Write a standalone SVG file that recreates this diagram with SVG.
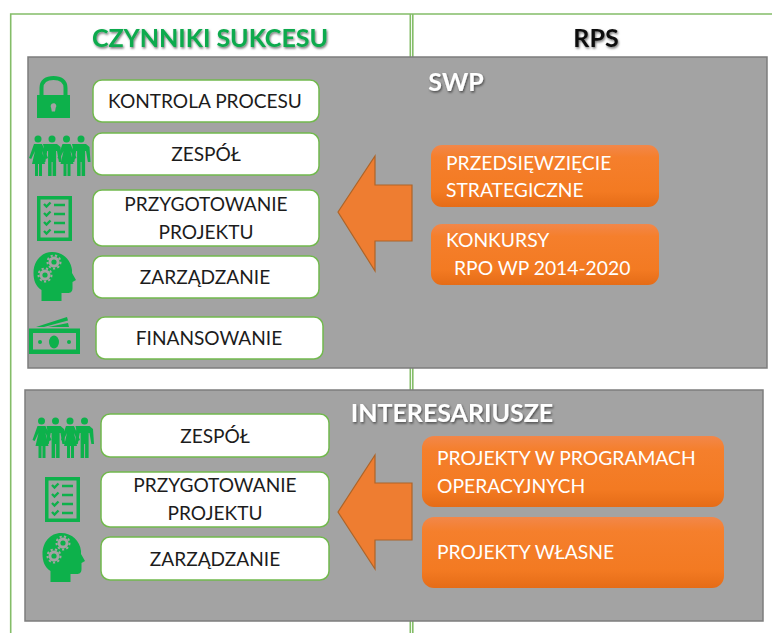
<svg xmlns="http://www.w3.org/2000/svg" width="772" height="633" viewBox="0 0 772 633">
<style>
text{font-family:Lato,"Open Sans","Liberation Sans",sans-serif}
.frame{stroke:#84bd68;fill:none;stroke-width:1.6}
.panel{fill:#a3a3a3;stroke:#7d7d7d;stroke-width:1.5}
.box{fill:#fff;stroke:#72b94e;stroke-width:1.5}
.lbl{font-size:19.100px;fill:#1c1c1c;text-anchor:middle}
.org{fill:url(#og)}
.ol{font-size:19.300px;fill:#fff}
.arrow{fill:#ee7d31;stroke:#ad6428;stroke-width:1.2}
.ic{fill:#0db14b}
.head{font-weight:700}
</style>
<defs>
<linearGradient id="og" x1="0" y1="0" x2="0" y2="1"><stop offset="0" stop-color="#f2874a"/><stop offset=".2" stop-color="#f57f2c"/><stop offset=".75" stop-color="#f37a22"/><stop offset="1" stop-color="#e56c17"/></linearGradient>
<filter id="sh" x="-10%" y="-30%" width="120%" height="170%"><feDropShadow dx="1" dy="1.500" stdDeviation="1" flood-color="#000" flood-opacity=".55"/></filter>
<g id="people" class="ic">
<g id="fem"><circle cx="38" cy="139" r="3.500"/><path d="M34 144h8l6 14-2.200 1-3.800-8 3 13h-3v12h-3v-12h-1v12h-3v-12h-3l3-13-3.800 8-2.200-1z"/></g>
<g id="mal"><circle cx="52" cy="139" r="3.500"/><path d="M45 144h14l3.500 3 1 15h-2.600l-1.900-11h-.9v25h-3.500v-14h-1v14h-3.500v-25h-.9l-1.900 11h-2.600l1-15z" transform="translate(-2 0)"/></g>
<use href="#fem" x="28.500"/><use href="#mal" x="29"/>
</g>
<g id="check">
<path class="ic" fill-rule="evenodd" d="M37 196h35v45h-35zM40.500 199.500v38h28v-38z"/>
<path fill="none" stroke="#0db14b" stroke-width="2.400" d="M44 204l2.500 2.500 4-4M44 213l2.500 2.500 4-4M44 222l2.500 2.500 4-4M44 231l2.500 2.500 4-4M54 205h11M54 214h11M54 223h11M54 232h11"/>
</g>
<g id="brain">
<path class="ic" d="M52 252c11 0 19 8 20 18l0 3 4 7-3.500 2 0 6c0 4-2 5-5 5l-6 0 0 8h-20l0-11c-6-4-8-10-8-17 0-12 8-21 18.500-21z"/>
<circle cx="54" cy="262" r="5.500" fill="#a3a3a3"/><circle cx="45" cy="275" r="5.500" fill="#a3a3a3"/>
<g fill="none" stroke="#a3a3a3" stroke-width="2" stroke-dasharray="2.200 2.200"><circle cx="54" cy="262" r="6.500"/><circle cx="45" cy="275" r="6.500"/></g>
<circle class="ic" cx="54" cy="262" r="2.600"/><circle class="ic" cx="45" cy="275" r="2.600"/>
</g>
</defs>
<rect width="772" height="633" fill="#fff"/>
<g id="frame">
<path class="frame" d="M772 14H10.700V633"/>
<path class="frame" d="M410.300 14V633M412.800 14V633" stroke-width="1.200"/>
</g>
<text x="210" y="47" font-size="25" class="head" fill="#0eaa4e" text-anchor="middle" filter="url(#sh)">CZYNNIKI SUKCESU</text>
<text x="596" y="47" font-size="25" class="head" fill="#111" text-anchor="middle" filter="url(#sh)">RPS</text>
<g id="swp">
<rect class="panel" x="28" y="57" width="739" height="311"/>
<text x="456" y="91" font-size="25" class="head" fill="#fff" text-anchor="middle" filter="url(#sh)">SWP</text>
</g>
<g id="interesariusze">
<rect class="panel" x="25" y="390" width="738" height="231"/>
<text x="452" y="422" font-size="25" class="head" fill="#fff" text-anchor="middle" filter="url(#sh)">INTERESARIUSZE</text>
</g>
<g id="icon-lock">
<path fill="none" stroke="#0db14b" stroke-width="4" d="M41.500 97V88c0-7 5-10 12-10s12 3 12 10V97"/>
<path class="ic" fill-rule="evenodd" d="M37 95h33v23h-33zM50.700 106a2.800 2.800 0 1 1 5 1.700l-.7 3.800h-3.200l-.7-3.800a2.800 2.800 0 0 1-.4-1.700z"/>
</g>
<use id="icon-people-1" href="#people"/>
<use id="icon-check-1" href="#check"/>
<use id="icon-brain-1" href="#brain"/>
<g id="icon-money">
<path class="ic" d="M36 327l31-10 1 3.500-24 6.500zM48 327l20-4 1 4z"/>
<path class="ic" fill-rule="evenodd" d="M29 328.500h51v25.500h-51zM33 333v16.500h43v-16.500z"/>
<ellipse class="ic" cx="54" cy="342" rx="5" ry="6.500"/><circle class="ic" cx="40" cy="342" r="2"/><circle class="ic" cx="69" cy="342" r="2"/>
</g>
<use id="icon-people-2" href="#people" x="3.500" y="282"/>
<use id="icon-check-2" href="#check" x="8" y="281"/>
<use id="icon-brain-2" href="#brain" x="9" y="281"/>
<g id="n-kontrola"><rect class="box" x="93" y="80" width="226" height="42" rx="9"/><text class="lbl" x="205" y="108">KONTROLA PROCESU</text></g>
<g id="n-zespol1"><rect class="box" x="93" y="133" width="226" height="42" rx="9"/><text class="lbl" x="206" y="161">ZESPÓŁ</text></g>
<g id="n-przyg1"><rect class="box" x="93" y="190" width="226" height="56" rx="9"/><text class="lbl" x="206" y="211">PRZYGOTOWANIE</text><text class="lbl" x="206" y="239">PROJEKTU</text></g>
<g id="n-zarz1"><rect class="box" x="93" y="256" width="226" height="42" rx="9"/><text class="lbl" x="205" y="284">ZARZĄDZANIE</text></g>
<g id="n-fin"><rect class="box" x="96" y="317" width="227" height="42" rx="9"/><text class="lbl" x="209" y="345">FINANSOWANIE</text></g>
<g id="n-zespol2"><rect class="box" x="101" y="414" width="228" height="43" rx="9"/><text class="lbl" x="215" y="443">ZESPÓŁ</text></g>
<g id="n-przyg2"><rect class="box" x="101" y="472" width="228" height="55" rx="9"/><text class="lbl" x="215" y="492">PRZYGOTOWANIE</text><text class="lbl" x="215" y="520">PROJEKTU</text></g>
<g id="n-zarz2"><rect class="box" x="101" y="537" width="228" height="43" rx="9"/><text class="lbl" x="215" y="566">ZARZĄDZANIE</text></g>
<g id="connectors">
<path class="arrow" d="M338 212L375 156V185H412V241H375V271Z"/>
<path class="arrow" d="M338 512L375 455V483H412V540H375V569Z"/>
</g>
<g id="n-przed"><rect class="org" x="431" y="145" width="228" height="62" rx="11"/><text class="ol" x="446" y="170">PRZEDSIĘWZIĘCIE</text><text class="ol" x="446" y="197">STRATEGICZNE</text></g>
<g id="n-konk"><rect class="org" x="431" y="224" width="228" height="61" rx="11"/><text class="ol" x="446" y="247">KONKURSY</text><text class="ol" x="454" y="275">RPO WP 2014-2020</text></g>
<g id="n-proj"><rect class="org" x="422" y="436" width="302" height="71" rx="12"/><text class="ol" x="437" y="465">PROJEKTY W PROGRAMACH</text><text class="ol" x="437" y="493">OPERACYJNYCH</text></g>
<g id="n-wlasne"><rect class="org" x="422" y="517" width="302" height="71" rx="12"/><text class="ol" x="437" y="559">PROJEKTY WŁASNE</text></g>
</svg>
